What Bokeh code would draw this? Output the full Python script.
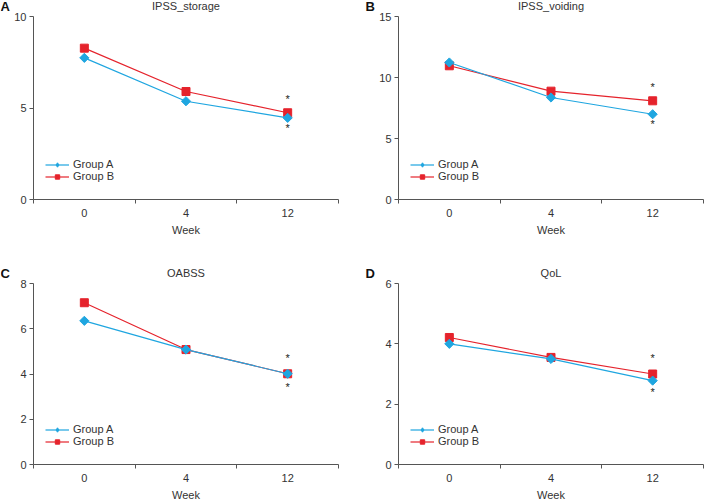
from bokeh.plotting import figure
from bokeh.models import (Range1d, FixedTicker, Legend, LegendItem, Label,
                          ColumnDataSource, LinearAxis)
from bokeh.layouts import column, row
from bokeh.embed import file_html
from bokeh.resources import INLINE
from bokeh.core.properties import value
import math

# ---- data ----
weeks = ["0", "4", "12"]
panel_letters = ["A", "B", "C", "D"]
titles = ["IPSS_storage", "IPSS_voiding", "OABSS", "QoL"]
y_max = [10, 15, 8, 6]
y_ticks = [[0, 5, 10], [0, 5, 10, 15], [0, 2, 4, 6, 8], [0, 2, 4, 6]]
group_a = [[7.74, 5.37, 4.46], [11.23, 8.36, 6.99], [6.35, 5.08, 4.01], [4.00, 3.50, 2.78]]
group_b = [[8.27, 5.90, 4.74], [10.96, 8.88, 8.09], [7.15, 5.08, 4.01], [4.21, 3.55, 3.00]]
star_upper = [5.59, 9.40, 4.79, 3.60]
star_lower = [3.99, 6.34, 3.50, 2.46]

# ---- style / layout ----
BLUE = "#1FA6E0"
RED = "#E5232C"
FONT = "Liberation Sans"
AXIS = "#555555"
TXT = "#333333"
FIG_W = 352
FIG_H = [250, 249]
# plot box inside each figure (pixels): left, right, top, bottom
BOX = {(0, 0): (33, 338, 16, 199), (0, 1): (46, 351, 16, 199),
       (1, 0): (33, 338, 33, 214), (1, 1): (46, 351, 33, 214)}


def make_panel(i, r, c):
    W, H = FIG_W, FIG_H[r]
    left, right, top, bottom = BOX[(r, c)]
    n = len(weeks)
    ppx = (right - left) / n
    ppy = (bottom - top) / y_max[i]
    x_rng = Range1d(-left / ppx, n + (W - right) / ppx)
    y_rng = Range1d(-(H - bottom) / ppy, y_max[i] + top / ppy)

    p = figure(width=W, height=H, output_backend="svg", toolbar_location=None,
               x_range=x_rng, y_range=y_rng, min_border=0,
               x_axis_location=None, y_axis_location=None)
    p.outline_line_color = None
    p.xgrid.visible = False
    p.ygrid.visible = False
    p.background_fill_color = "white"
    p.border_fill_color = "white"

    xs = [k + 0.5 for k in range(n)]
    src_a = ColumnDataSource(dict(x=xs, y=group_a[i]))
    src_b = ColumnDataSource(dict(x=xs, y=group_b[i]))

    # x axis: labels at category centres, tick marks at category boundaries
    xa = LinearAxis(fixed_location=0, bounds=(0, n))
    xa.ticker = FixedTicker(ticks=xs, minor_ticks=list(range(n + 1)))
    xa.major_label_overrides = {x: w for x, w in zip(xs, weeks)}
    xa.major_tick_out = 0
    xa.major_tick_in = 0
    xa.minor_tick_out = 4
    xa.minor_tick_in = 0
    xa.minor_tick_line_color = AXIS
    xa.axis_line_color = AXIS
    xa.major_label_text_font = FONT
    xa.major_label_text_font_size = "11px"
    xa.major_label_text_color = TXT
    xa.major_label_standoff = 5
    xa.axis_label = "Week"
    xa.axis_label_text_font = FONT
    xa.axis_label_text_font_size = "11px"
    xa.axis_label_text_font_style = "normal"
    xa.axis_label_text_color = TXT
    xa.axis_label_standoff = 4
    p.add_layout(xa, "below")

    ya = LinearAxis(fixed_location=0, bounds=(0, y_max[i]))
    ya.ticker = FixedTicker(ticks=y_ticks[i], minor_ticks=[])
    ya.major_tick_out = 4
    ya.major_tick_in = 0
    ya.minor_tick_out = 0
    ya.minor_tick_in = 0
    ya.major_tick_line_color = AXIS
    ya.axis_line_color = AXIS
    ya.major_label_text_font = FONT
    ya.major_label_text_font_size = "11px"
    ya.major_label_text_color = TXT
    ya.major_label_standoff = 3
    p.add_layout(ya, "left")

    lb = p.line("x", "y", source=src_b, line_color=RED, line_width=1.2)
    sb = p.scatter("x", "y", source=src_b, marker="square", size=8, fill_color=RED, line_color=RED)
    la = p.line("x", "y", source=src_a, line_color=BLUE, line_width=1.2)
    sa = p.scatter("x", "y", source=src_a, marker="square", size=6.5, angle=math.pi / 4,
                   fill_color=BLUE, line_color=BLUE)
    # diamond swatch for the legend key (hidden on the plot itself)
    sa_key = p.scatter("x", "y", source=src_a, marker="diamond", size=10,
                       fill_color=BLUE, line_color=BLUE, visible=False)

    # significance stars at week 12
    p.text(x=[xs[-1], xs[-1]], y=[star_upper[i], star_lower[i]], text=["*", "*"],
           text_align="center", text_baseline="middle", y_offset=2,
           text_font=value(FONT), text_font_size="11px", text_color="#222222")

    legend = Legend(items=[LegendItem(label="Group A", renderers=[la, sa_key]),
                           LegendItem(label="Group B", renderers=[lb, sb])],
                    location=(left + 12, (H - bottom) + 17), padding=0, margin=0, spacing=-2,
                    glyph_width=24, glyph_height=11, label_height=11, label_standoff=4,
                    label_text_font=FONT, label_text_font_size="11px", label_text_color=TXT,
                    border_line_alpha=0, background_fill_alpha=0, inactive_fill_alpha=0)
    p.add_layout(legend)

    # panel title and panel letter
    p.add_layout(Label(x=n / 2, y=y_max[i], y_offset=11, text=titles[i],
                       text_align="center", text_baseline="middle",
                       text_font=FONT, text_font_size="11px", text_color=TXT))
    p.add_layout(Label(x=0, y=y_max[i], x_offset=-33, y_offset=10,
                       text=panel_letters[i], text_align="left", text_baseline="middle",
                       text_font=FONT, text_font_size="13px",
                       text_font_style="bold", text_color="#111111"))
    return p


pa = make_panel(0, 0, 0)
pb = make_panel(1, 0, 1)
pc = make_panel(2, 1, 0)
pd = make_panel(3, 1, 1)

layout = column(row(pa, pb), row(pc, pd))
open("out.html", "w").write(file_html(layout, INLINE))
